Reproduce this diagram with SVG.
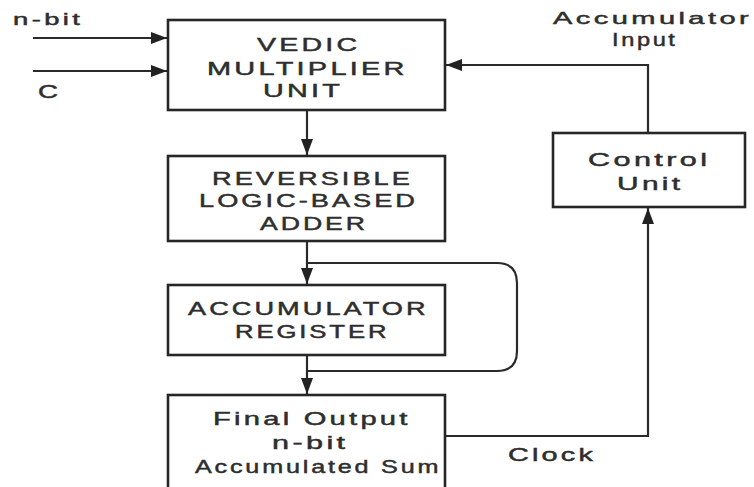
<svg xmlns="http://www.w3.org/2000/svg" width="754" height="487" viewBox="0 0 754 487">
<style>
.box{fill:#fff;stroke:#262626;stroke-width:2.6}
.ln{fill:none;stroke:#2a2a2a;stroke-width:2.2}
.t{font-family:"Liberation Sans",Arial,sans-serif;font-size:18px;fill:#2e2e2e;stroke:#2e2e2e;stroke-width:0.45;letter-spacing:2px}
.s{font-size:17px}
</style>
<defs>
<marker id="ah" viewBox="0 0 16 12" refX="16" refY="6" markerWidth="16" markerHeight="12" markerUnits="userSpaceOnUse" orient="auto">
<path d="M0,0 L16,6 L0,12 z" fill="#222"/>
</marker>
</defs>
<rect width="754" height="487" fill="#fff"/>
<g id="connectors">
<line class="ln" x1="33" y1="38" x2="167" y2="38" marker-end="url(#ah)"/>
<line class="ln" x1="33" y1="71" x2="167" y2="71" marker-end="url(#ah)"/>
<line class="ln" x1="307" y1="110" x2="307" y2="155" marker-end="url(#ah)"/>
<line class="ln" x1="307" y1="241" x2="307" y2="284" marker-end="url(#ah)"/>
<line class="ln" x1="307" y1="355" x2="307" y2="394" marker-end="url(#ah)"/>
<path class="ln" d="M307,263 H497 Q517,263 517,283 V351 Q517,371 497,371 H307"/>
<path class="ln" d="M445,436 H648 V208" marker-end="url(#ah)"/>
<path class="ln" d="M648,133 V65 H446" marker-end="url(#ah)"/>
</g>
<g id="labels">
<text class="t" style="font-size:16px" transform="translate(13 25) scale(1.71 1)">n-bit</text>
<text class="t" style="font-size:19px" transform="translate(38 98) scale(1.46 1)">C</text>
<text class="t s" transform="translate(553 24) scale(1.71 1)">Accumulator</text>
<text class="t" transform="translate(612 46) scale(1.31 1)">Input</text>
<text class="t" transform="translate(508 461) scale(1.6 1)">Clock</text>
</g>
<g id="vedic">
<rect class="box" x="168" y="20" width="277" height="90"/>
<text class="t" transform="translate(257 51) scale(1.59 1)">VEDIC</text>
<text class="t" transform="translate(207 75) scale(1.61 1)">MULTIPLIER</text>
<text class="t" transform="translate(263 97) scale(1.6 1)">UNIT</text>
</g>
<g id="adder">
<rect class="box" x="168" y="156" width="277" height="85"/>
<text class="t" transform="translate(212 185) scale(1.51 1)">REVERSIBLE</text>
<text class="t" transform="translate(199 207) scale(1.51 1)">LOGIC-BASED</text>
<text class="t" transform="translate(260 230) scale(1.48 1)">ADDER</text>
</g>
<g id="register">
<rect class="box" x="168" y="285" width="277" height="70"/>
<text class="t" transform="translate(188 315) scale(1.51 1)">ACCUMULATOR</text>
<text class="t" transform="translate(235 338) scale(1.43 1)">REGISTER</text>
</g>
<g id="output">
<rect class="box" x="168" y="395" width="277" height="100"/>
<text class="t" transform="translate(213 425) scale(1.62 1)">Final Output</text>
<text class="t" transform="translate(272 449) scale(1.7 1)">n-bit</text>
<text class="t" transform="translate(195 473) scale(1.4 1)">Accumulated Sum</text>
</g>
<g id="control">
<rect class="box" x="553" y="133" width="192" height="74"/>
<text class="t" transform="translate(588 166) scale(1.7 1)">Control</text>
<text class="t" transform="translate(617 190) scale(1.66 1)">Unit</text>
</g>
</svg>
